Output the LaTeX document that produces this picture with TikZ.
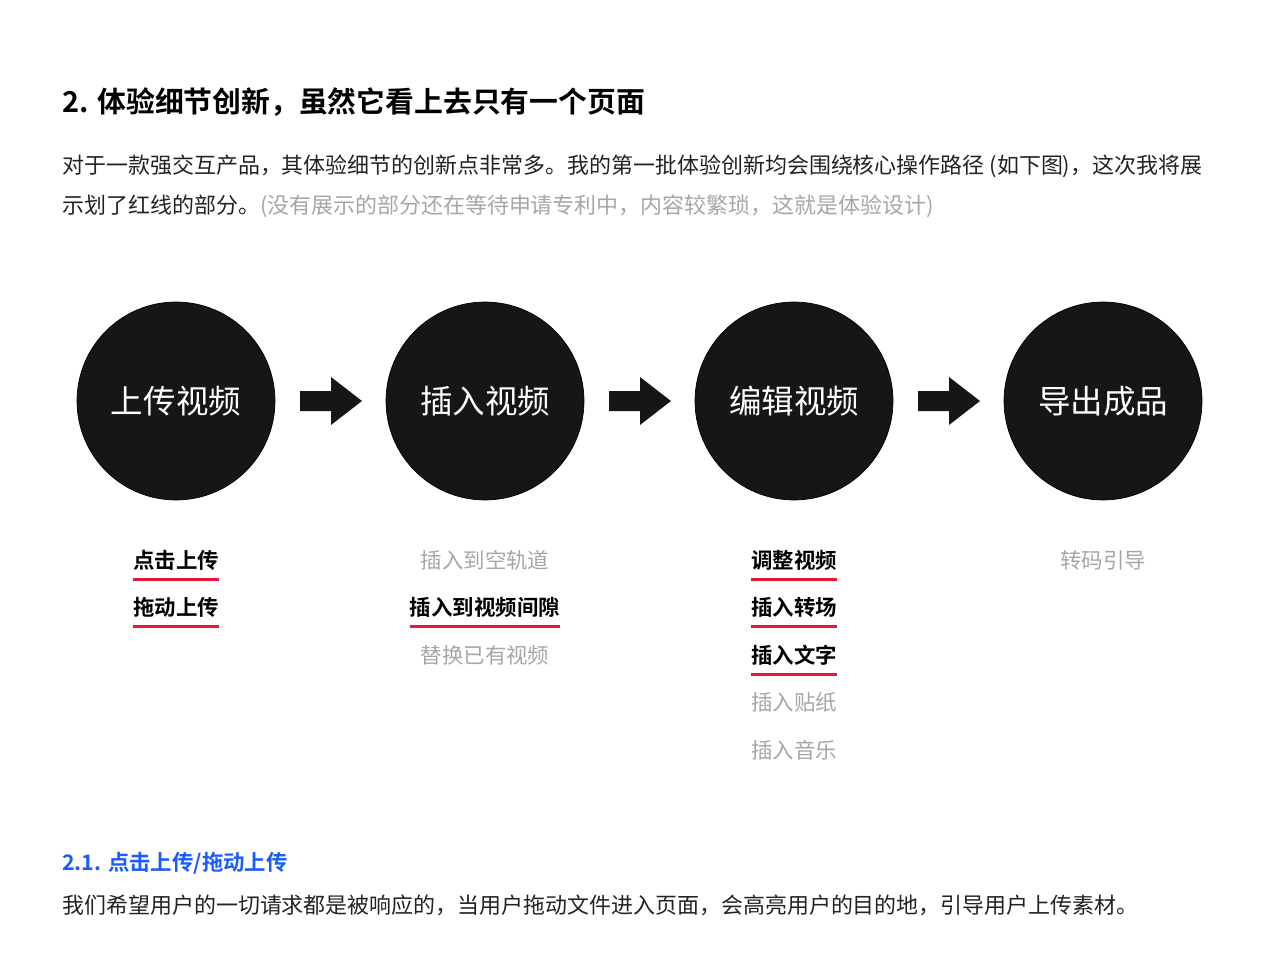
\documentclass[tikz,border=0pt]{standalone}
\usepackage{fontspec}
\setmainfont{Noto Sans CJK SC}[BoldFont={Noto Sans CJK SC Bold}]
\usetikzlibrary{positioning}
\definecolor{stepblack}{HTML}{161616}
\definecolor{hintgray}{HTML}{A6A6A6}
\definecolor{markred}{HTML}{E8173C}
\definecolor{linkblue}{HTML}{1A5CFF}
\definecolor{bodytext}{HTML}{222222}

\begin{document}
\begin{tikzpicture}[x=0.02cm,y=-0.02cm,
    stepcircle/.style={circle,fill=stepblack,draw=black,minimum size=3.96cm,inner sep=0pt,text=white,font=\fontsize{18.5}{20}\selectfont},
    item/.style={inner sep=0pt,font=\fontsize{12.2}{14}\selectfont},
    done/.style={item,font=\bfseries\fontsize{12.2}{14}\selectfont,text=black},
    todo/.style={item,text=hintgray},
    para/.style={anchor=west,inner sep=0pt,text=bodytext,font=\fontsize{12.5}{14}\selectfont},
    redline/.style={draw=markred,line width=1.2pt},
    blockarrow/.style={fill=stepblack}]
    \useasboundingbox (0,0) rectangle (1280,969);

    % heading and intro
    \node[para,text=black,font=\bfseries\fontsize{16.4}{18}\selectfont] (title) at (62,102) {2. 体验细节创新，虽然它看上去只有一个页面};
    \node[para] (intro1) at (62,166) {对于一款强交互产品，其体验细节的创新点非常多。我的第一批体验创新均会围绕核心操作路径 (如下图)，这次我将展};
    \node[para] (intro2) at (62,206) {示划了红线的部分。\textcolor{hintgray}{(没有展示的部分还在等待申请专利中，内容较繁琐，这就是体验设计)}};

    % steps
    \node[stepcircle] (upload) at (176,401) {上传视频};
    \node[stepcircle] (insert) at (485,401) {插入视频};
    \node[stepcircle] (edit) at (794,401) {编辑视频};
    \node[stepcircle] (export) at (1103,401) {导出成品};

    \foreach \ax in {300,609,918}
        \fill[blockarrow] (\ax,391) -- (\ax+31,391) -- (\ax+31,377) -- (\ax+62,401)
            -- (\ax+31,425) -- (\ax+31,411) -- (\ax,411) -- cycle;

    % details under each step
    \node[done] (click) at (176,560) {点击上传};
    \node[done] (drag) at (176,607) {拖动上传};
    \node[todo] (empty) at (485,560) {插入到空轨道};
    \node[done] (gap) at (485,607) {插入到视频间隙};
    \node[todo] (replace) at (485,655) {替换已有视频};
    \node[done] (adjust) at (794,560) {调整视频};
    \node[done] (trans) at (794,607) {插入转场};
    \node[done] (words) at (794,655) {插入文字};
    \node[todo] (sticker) at (794,702) {插入贴纸};
    \node[todo] (music) at (794,750) {插入音乐};
    \node[todo] (guide) at (1103,560) {转码引导};

    \foreach \n in {click,drag,gap,adjust,trans,words}
        \draw[redline] ([yshift=-0.39cm]\n.west) -- ([yshift=-0.39cm]\n.east);

    % section 2.1
    \node[para,text=linkblue,font=\bfseries\fontsize{12.2}{14}\selectfont] (sub) at (62,863) {2.1. 点击上传/拖动上传};
    \node[para] (body) at (62,905) {我们希望用户的一切请求都是被响应的，当用户拖动文件进入页面，会高亮用户的目的地，引导用户上传素材。};
\end{tikzpicture}
\end{document}
